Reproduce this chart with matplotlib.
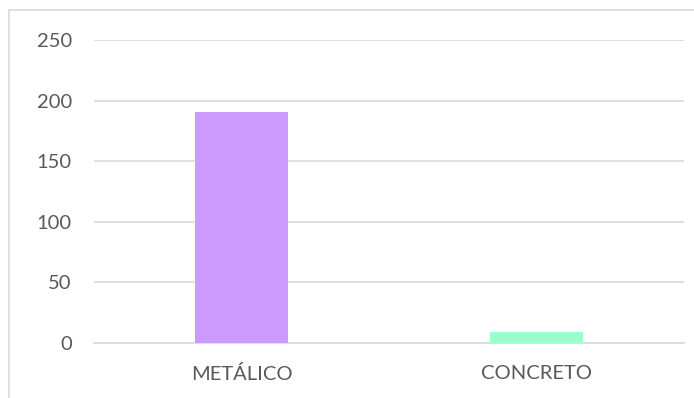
import matplotlib
matplotlib.use('Agg')
from matplotlib import pyplot as plt
from matplotlib.patches import Rectangle

categories = ['METÁLICO', 'CONCRETO']
values = [191, 9]
colors = ['#CC99FF', '#99FFCC']
y_ticks = [0, 50, 100, 150, 200, 250]

plt.rcParams['font.family'] = ['Lato', 'DejaVu Sans']

fig = plt.figure(figsize=(6.94, 3.98), dpi=100)
W, H = 694, 398

# chart frame (runs off the right and bottom edges)
fig.patches.append(Rectangle((8.5 / W, -0.1), 1.2, 1 - 10.5 / H + 0.1,
                             transform=fig.transFigure, fill=False,
                             edgecolor='#D9D9D9', linewidth=1.2))

ax = fig.add_axes([94 / W, 1 - 343 / H, 590 / W, 303 / H])
x = list(range(len(categories)))
ax.bar(x, values, width=0.315, color=colors, zorder=3)

ax.set_xlim(-0.5, 1.5)
ax.set_ylim(0, 250)
ax.set_yticks(y_ticks)
ax.set_xticks(x)
ax.set_xticklabels(categories)
ax.grid(axis='y', color='#D9D9D9', linewidth=1.2, zorder=0)
ax.set_axisbelow(True)
for s in ['top', 'right', 'left']:
    ax.spines[s].set_visible(False)
ax.spines['bottom'].set_color('#D9D9D9')
ax.spines['bottom'].set_linewidth(1.2)
ax.tick_params(axis='both', length=0, colors='#595959', labelsize=14.5)
ax.tick_params(axis='y', pad=16)
ax.tick_params(axis='x', pad=15.5)

fig.savefig('out.png', dpi=100)
